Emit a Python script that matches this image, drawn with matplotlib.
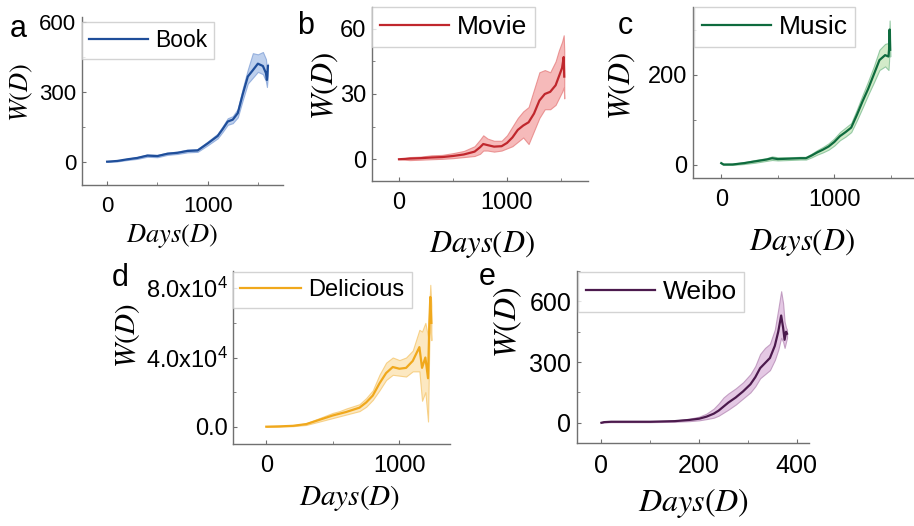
import numpy as np
import matplotlib
matplotlib.use("Agg")
import matplotlib.pyplot as plt
from matplotlib.ticker import AutoMinorLocator

plt.rcParams['font.family'] = ['Liberation Sans', 'DejaVu Sans']
plt.rcParams['mathtext.fontset'] = 'custom'
plt.rcParams['mathtext.rm'] = 'Liberation Sans'
plt.rcParams['mathtext.it'] = 'Liberation Sans:italic'

# ---- data ----
book_x = [0, 100, 200, 300, 400, 500, 600, 700, 800, 900, 1000, 1100, 1150, 1200, 1250,
          1300, 1350, 1400, 1450, 1500, 1550, 1580, 1590, 1600]
book_y = [0, 3, 10, 16, 26, 24, 34, 38, 46, 48, 78, 110, 140, 172, 180,
          208, 290, 365, 392, 420, 410, 380, 350, 410]
book_lo = [0, 1, 7, 12, 21, 19, 29, 33, 40, 42, 70, 100, 128, 158, 165,
           190, 265, 335, 360, 385, 375, 345, 320, 370]
book_hi = [0, 5, 13, 20, 31, 29, 39, 43, 52, 54, 86, 120, 152, 186, 195,
           226, 315, 395, 465, 460, 470, 440, 400, 420]

movie_x = [0, 100, 200, 300, 400, 500, 600, 700, 750, 780, 820, 880, 950, 1000, 1050,
           1100, 1150, 1200, 1250, 1300, 1350, 1400, 1450, 1480, 1510, 1525, 1530]
movie_y = [0, 0.3, 0.5, 0.8, 1.0, 1.5, 2.2, 3.5, 5.5, 7.0, 6.5, 5.8, 6.0, 7.5, 10,
           13.5, 15.5, 17, 21, 27, 30, 31, 34, 38, 42, 47, 38]
movie_lo = [0, -0.4, -0.2, 0, 0.2, 0.5, 1.0, 1.5, 2.5, 4, 4, 3.5, 4, 5, 6,
            8, 10, 7, 13, 19, 23, 23, 25, 28, 31, 33, 28]
movie_hi = [0, 1.0, 1.2, 1.8, 2.0, 2.8, 3.8, 6.0, 9.0, 11, 9.5, 8.5, 8.5, 11, 15,
            19, 22, 24, 32, 40, 41, 40, 45, 50, 54, 57, 50]

music_x = [0, 20, 100, 200, 300, 400, 450, 500, 600, 700, 750, 800, 850, 900, 950,
           1000, 1050, 1100, 1150, 1200, 1250, 1300, 1350, 1400, 1450, 1480, 1485, 1490, 1495]
music_y = [3, 0, 0, 3, 7, 11, 14, 12, 13, 14, 14, 20, 27, 33, 40,
           50, 63, 72, 82, 110, 140, 168, 200, 232, 243, 240, 255, 300, 255]
music_lo = [2, -1, -1, 1, 4, 8, 10, 9, 10, 11, 11, 16, 22, 27, 33,
            42, 54, 62, 72, 98, 126, 155, 182, 210, 218, 210, 230, 280, 240]
music_hi = [4, 1, 2, 5, 10, 14, 18, 16, 16, 17, 17, 24, 32, 39, 47,
            58, 72, 82, 92, 122, 154, 185, 218, 255, 268, 270, 280, 320, 280]

delicious_x = [0, 100, 200, 300, 400, 500, 550, 600, 700, 750, 800, 850, 900, 950, 1000,
               1050, 1100, 1150, 1170, 1195, 1215, 1225, 1232, 1240]
delicious_y = [0, 200, 500, 1500, 4000, 6500, 7500, 8500, 11000, 14000, 18000, 25000, 31000, 34500, 33500,
               34000, 38000, 46000, 34000, 40000, 28000, 60000, 75000, 60000]
delicious_lo = [0, 100, 300, 1000, 3000, 5000, 6000, 7000, 9000, 11500, 15500, 21000, 27000, 30000, 29500,
                29000, 32000, 32000, 15000, 20000, 3000, 50000, 60000, 50000]
delicious_hi = [0, 300, 800, 2000, 5000, 8000, 9000, 10500, 13000, 16500, 21000, 30000, 37000, 40000, 38500,
                40000, 44000, 56000, 55000, 60000, 52000, 70000, 82000, 70000]

weibo_x = [0, 5, 20, 50, 100, 150, 180, 200, 215, 230, 240, 250, 260, 275, 290,
           305, 315, 325, 335, 345, 355, 362, 368, 372, 375, 378, 380]
weibo_y = [0, 3, 5, 5, 5, 8, 14, 20, 30, 45, 60, 80, 100, 125, 155,
           190, 225, 270, 295, 320, 380, 450, 530, 470, 410, 450, 440]
weibo_lo = [0, 2, 3, 3, 3, 5, 8, 12, 18, 25, 35, 50, 65, 90, 120,
            150, 180, 220, 240, 260, 310, 360, 420, 400, 370, 400, 420]
weibo_hi = [0, 4, 7, 7, 7, 11, 20, 30, 45, 70, 95, 125, 145, 170, 200,
            240, 280, 340, 370, 390, 460, 560, 650, 590, 500, 470, 460]

W, H = 914, 526
fig = plt.figure(figsize=(W / 100, H / 100), dpi=100)


def fx(px):
    return px / W


def fy(py):
    return 1 - py / H


def panel(box, x, y, lo, hi, name, line_c, fill_c, edge_c, xlim, ylim, xt, yt,
          letter, letter_xy, leg_xy, leg_fs, tick_fs, lab_fs, xlab_xy, ylab_xy, ytl=None):
    l, t, r, b = box
    ax = fig.add_axes([fx(l), fy(b), fx(r - l), (b - t) / H])
    ax.fill_between(x, lo, hi, facecolor=fill_c, edgecolor=edge_c, lw=0.8, alpha=0.75)
    ax.plot(x, y, color=line_c, lw=1.6, label=name)
    ax.set_xlim(*xlim)
    ax.set_ylim(*ylim)
    ax.set_xticks(xt)
    ax.set_yticks(yt)
    if ytl is not None:
        ax.set_yticklabels(ytl)
    ax.xaxis.set_minor_locator(AutoMinorLocator(2))
    ax.yaxis.set_minor_locator(AutoMinorLocator(2))
    for s in ['top', 'right']:
        ax.spines[s].set_visible(False)
    for s in ['left', 'bottom']:
        ax.spines[s].set_color('#707070')
        ax.spines[s].set_linewidth(1.0)
    ax.tick_params(which='both', direction='in', color='#707070', labelsize=tick_fs)
    ax.tick_params(which='major', length=3)
    ax.tick_params(which='minor', length=2)
    ax.tick_params(axis='x', pad=8)
    ax.tick_params(axis='y', pad=4)
    leg = ax.legend(loc='upper left', bbox_to_anchor=(fx(leg_xy[0]), fy(leg_xy[1])),
                    bbox_transform=fig.transFigure, borderaxespad=0, fontsize=leg_fs,
                    frameon=True, fancybox=False, handlelength=2.6, handletextpad=0.3,
                    borderpad=0.3)
    leg.get_frame().set_edgecolor('#c8c8c8')
    leg.get_frame().set_linewidth(1.0)
    xl = ax.set_xlabel('$Days(D)$', fontsize=lab_fs, va='center')
    xl.set_math_fontfamily('stix')
    ax.xaxis.set_label_coords(fx(xlab_xy[0]), fy(xlab_xy[1]), transform=fig.transFigure)
    yl = ax.set_ylabel('$W(D)$', fontsize=lab_fs, va='center')
    yl.set_math_fontfamily('stix')
    ax.yaxis.set_label_coords(fx(ylab_xy[0]), fy(ylab_xy[1]), transform=fig.transFigure)
    fig.text(fx(letter_xy[0]), fy(letter_xy[1]), letter, fontsize=22, ha='center', va='center')
    return ax


panel((82, 17, 283, 185), book_x, book_y, book_lo, book_hi, 'Book',
      '#1f4e9a', '#a9c1e8', '#7f9fd6', (-250, 1750), (-100, 620), [0, 1000], [0, 300, 600],
      'a', (18, 29), (82, 22), 16.5, 16, 19, (172, 236), (22, 92))

panel((372, 7, 588, 181), movie_x, movie_y, movie_lo, movie_hi, 'Movie',
      '#c0272d', '#f4a3a3', '#e57c7c', (-250, 1750), (-10, 70), [0, 1000], [0, 30, 60],
      'b', (306, 26), (372, 7), 19, 17, 22, (482, 244), (325, 86))

panel((693, 7, 919, 178), music_x, music_y, music_lo, music_hi, 'Music',
      '#0e6b3e', '#c4e5b8', '#79bb8e', (-250, 1750), (-30, 350), [0, 1000], [0, 200],
      'c', (625, 26), (694, 7), 19, 17, 22, (802, 242), (622, 86))

panel((233, 271, 450, 444), delicious_x, delicious_y, delicious_lo, delicious_hi, 'Delicious',
      '#f0a81c', '#fbe1ad', '#f5c56a', (-250, 1380), (-10000, 90000), [0, 1000], [0, 40000, 80000],
      'd', (120, 278), (233, 272), 17, 17, 21, (350, 498), (127, 335),
      ytl=['0.0', '4.0x10$^4$', '8.0x10$^4$'])

panel((577, 271, 809, 443), weibo_x, weibo_y, weibo_lo, weibo_hi, 'Weibo',
      '#4b1a4d', '#dcb6dc', '#b488b4', (-50, 425), (-100, 750), [0, 200, 400], [0, 300, 600],
      'e', (487, 277), (578, 272), 19, 18, 23, (693, 503), (508, 322))

fig.savefig('out.png', dpi=100)
